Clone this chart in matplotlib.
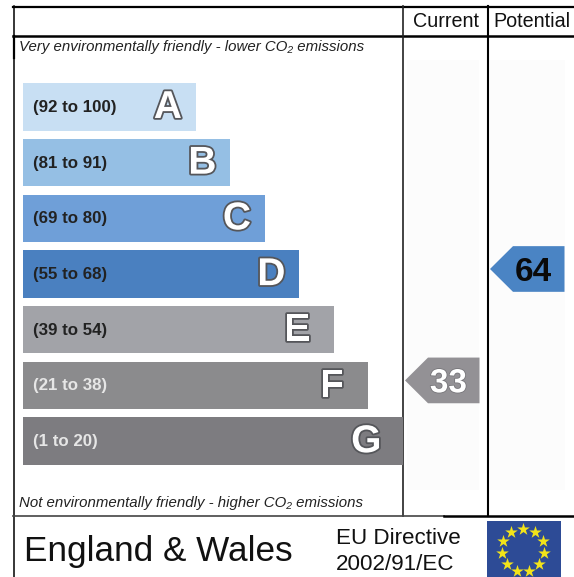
import matplotlib
matplotlib.use("Agg")
import matplotlib.patheffects as pe
import matplotlib.pyplot as plt
import numpy as np
from matplotlib.patches import Polygon, Rectangle
from matplotlib.transforms import blended_transform_factory

plt.rcParams['font.family'] = ['Liberation Sans', 'DejaVu Sans']

# Chart data
bands = ['A', 'B', 'C', 'D', 'E', 'F', 'G']
ranges = ['(92 to 100)', '(81 to 91)', '(69 to 80)', '(55 to 68)',
          '(39 to 54)', '(21 to 38)', '(1 to 20)']
bar_lengths = [5, 6, 7, 8, 9, 10, 11]
bar_colors = ['#c8dff3', '#95bfe4', '#6f9fd8', '#4a80c0',
              '#a2a3a8', '#8b8b8d', '#7d7c80']
label_colors = ['#222222'] * 5 + ['#e6e6e6'] * 2
columns = ['Current', 'Potential']
current_score = 33
potential_score = 64
current_band = 'F'
potential_band = 'D'
star_count = 11

W, H = 574, 577
fig = plt.figure(figsize=(W / 100, H / 100), dpi=100)

# Full figure axes in pixels, used for the frame and the text
ax = fig.add_axes([0, 0, 1, 1])
ax.set_xlim(0, W)
ax.set_ylim(H, 0)
ax.axis('off')

# Bars get their own axes, one unit of length is one step between bands
bx = fig.add_axes([23 / W, 1 - 469 / H, (402.5 - 23) / W, 390 / H])
bx.set_xlim(0, 11)
bx.set_ylim(6.5, -0.5)
bx.axis('off')
bx.patch.set_alpha(0)

# Faint off-white panels behind the pointer columns
ax.add_patch(Rectangle((407, 60), 72, 430, color='#fcfcfc', lw=0))
ax.add_patch(Rectangle((490, 60), 75, 430, color='#fcfcfc', lw=0))

y = np.arange(len(bands))
bx.barh(y, bar_lengths, height=0.85, color=bar_colors, linewidth=0)

outline = [pe.withStroke(linewidth=2.6, foreground='#55565a')]
for i, band in enumerate(bands):
    bx.text(0.29, i + 0.01, ranges[i], color=label_colors[i], fontsize=12.2,
            fontweight='bold', ha='left', va='center')
    # the letters sit further in from the bar end on the grey bands
    inset = 0.8 if i < 4 else 1.05
    bx.text(bar_lengths[i] - inset, i + 0.02, band, color='white', fontsize=28,
            fontweight='bold', ha='center', va='center', path_effects=outline)

# Frame
ax.plot([13, W], [6.5, 6.5], color='black', lw=1.6)
ax.plot([13, W], [36, 36], color='black', lw=1.8)
ax.plot([13.5, 13.5], [6, H], color='black', lw=1.1)
ax.plot([13.5, 13.5], [36, 58], color='black', lw=1.6)
ax.plot([402.7, 402.7], [6, 516], color='#222222', lw=1.2)
ax.plot([487.7, 487.7], [6, 516], color='black', lw=1.5)
ax.plot([13, 444], [516, 516], color='#444444', lw=1.2)
ax.plot([444, W], [516, 516], color='black', lw=1.8)

# Headers
ax.text(445.5, 21.5, columns[0], fontsize=14.2, ha='center', va='center', color='#111111')
ax.text(531.5, 21.5, columns[1], fontsize=14.2, ha='center', va='center', color='#111111')

ax.text(19, 46.5, 'Very environmentally friendly - lower CO\u2082 emissions',
        fontsize=10.8, family='Liberation Sans', style='italic',
        ha='left', va='center', color='#222222')
ax.text(19, 502.5, 'Not environmentally friendly - higher CO\u2082 emissions',
        fontsize=10.8, family='Liberation Sans', style='italic',
        ha='left', va='center', color='#222222')

# Footer
ax.text(24, 551, 'England & Wales', fontsize=25.3, ha='left', va='center', color='#111111')
ax.text(336, 538, 'EU Directive', fontsize=16.1, ha='left', va='center', color='#111111')
ax.text(336, 564, '2002/91/EC', fontsize=16.1, ha='left', va='center', color='#111111')

# EU flag
ax.add_patch(Rectangle((487, 521), 73.5, 56, color='#2d4b96', lw=0))
angles = 2 * np.pi * np.arange(star_count) / star_count
ax.scatter(523 + 21.5 * np.sin(angles), 550 - 21.5 * np.cos(angles), marker='*',
           s=90, color='#f2e31a', linewidths=0, zorder=3)

# Pointers, x in pixels and y on the band scale of the bars
pointer_tf = blended_transform_factory(ax.transData, bx.transData)


def draw_pointer(score, band, left, color, text_color, effects=None):
    row = bands.index(band) - 0.09
    shape = [(left, row), (left + 23, row - 0.41), (left + 74.5, row - 0.41),
             (left + 74.5, row + 0.41), (left + 23, row + 0.41)]
    ax.add_patch(Polygon(shape, closed=True, color=color, lw=0, transform=pointer_tf))
    ax.text(left + 43.5, row + 0.06, str(score), color=text_color, fontsize=24,
            fontweight='bold', ha='center', va='center',
            transform=pointer_tf, path_effects=effects)


draw_pointer(current_score, current_band, 405, '#939195', 'white',
             [pe.withStroke(linewidth=1.2, foreground='#77767a')])
draw_pointer(potential_score, potential_band, 490, '#4a84c4', '#0a0a0a')

fig.savefig('out.png', dpi=100)
